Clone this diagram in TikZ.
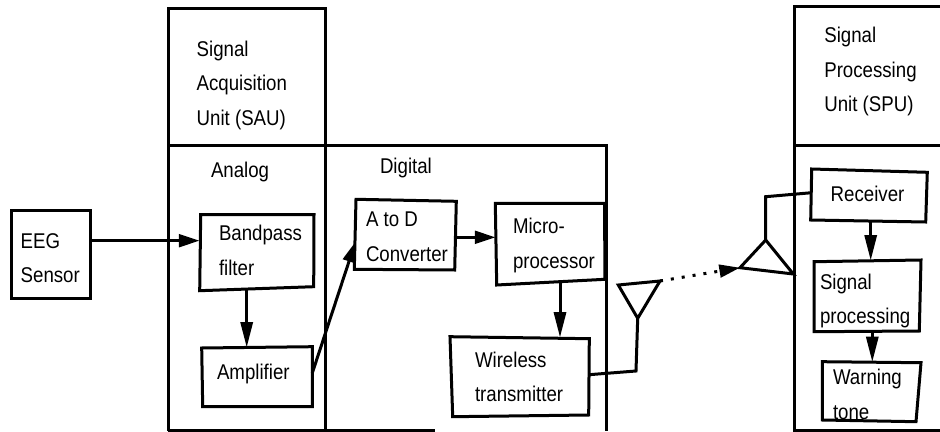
\documentclass[tikz,border=0pt]{standalone}
\usepackage{fontspec}
\setmainfont[FakeStretch=0.875]{Liberation Sans}
\usetikzlibrary{arrows.meta}
\tikzset{
  frameline/.style={line width=2.25pt,black},
  boxline/.style={line width=2.25pt,black,line join=miter},
  wire/.style={line width=2.25pt,black,line join=miter},
  flow/.style={line width=2.25pt,black,-{Triangle[length=15.5pt,width=9.5pt]}},
  flowdown/.style={line width=2.25pt,black,-{Triangle[length=19pt,width=9pt]}},
  lbl/.style={anchor=north west,inner sep=0pt,outer sep=0pt,align=left,text=black,
    font={\fontsize{16}{26}\selectfont}}
}
\begin{document}
\begin{tikzpicture}[x=0.75pt,y=-0.75pt]
\useasboundingbox (0,0) rectangle (940,432);
\fill[white] (0,0) rectangle (940,432);

% frames
\draw[frameline] (168.3,431) -- (168.3,8.5) -- (325,8.5) -- (325,431);
\draw[frameline] (168.3,145.7) -- (606,145.7) -- (606,431);
\draw[frameline] (168.3,430.5) -- (435,430.5);
\draw[frameline] (940,6.5) -- (794.5,6.5) -- (794.5,430) -- (940,430);
\draw[frameline] (794.5,145.7) -- (940,145.7);

% boxes
\draw[boxline] (11.7,210.7) -- (90,210.7) -- (90,298.3) -- (11.7,298.3) -- cycle;
\draw[boxline] (200.7,214.7) -- (314,214.7) -- (313.7,286.7) -- (199.7,290.7) -- cycle;
\draw[boxline] (201.7,348) -- (312.3,346.7) -- (312.3,406.7) -- (202.7,406.7) -- cycle;
\draw[boxline] (356,199.3) -- (456.3,201.3) -- (454.7,270) -- (354.3,269.3) -- cycle;
\draw[boxline] (495.3,203.3) -- (604.5,203.3) -- (605,279.3) -- (496.7,285) -- cycle;
\draw[boxline] (450,336.7) -- (589.3,338.7) -- (588.7,415) -- (452.7,416.7) -- cycle;
\draw[boxline] (811.7,169) -- (927.3,172.3) -- (925.7,222) -- (810.7,220) -- cycle;
\draw[boxline] (814,261.7) -- (921,260) -- (919.3,331) -- (814,331.7) -- cycle;
\draw[boxline] (822.3,361.7) -- (921,362.7) -- (916,421.7) -- (822.3,420) -- cycle;

% antennas
\coordinate (txL) at (618.3,285);
\coordinate (txR) at (660,281);
\coordinate (txB) at (637.7,318.3);
\coordinate (rxT) at (765.7,240);
\coordinate (rxL) at (740,267.7);
\coordinate (rxR) at (793.3,274);
\draw[boxline] (txL) -- (txR) -- (txB) -- cycle;
\draw[boxline] (rxT) -- (rxL) -- (rxR) -- cycle;

% labels
\node[lbl] (sau) at (196.7,40.7) {Signal\\Acquisition\\Unit (SAU)};
\node[lbl] (spu) at (824.3,27.2) {Signal\\Processing\\Unit (SPU)};
\node[lbl] (analog) at (211,162.2) {Analog};
\node[lbl] (digital) at (380,158.2) {Digital};
\node[lbl] (eeg) at (20.7,233.2) {EEG\\Sensor};
\node[lbl] (bp) at (219,225.2) {Bandpass\\filter};
\node[lbl] (amp) at (217,364.2) {Amplifier};
\node[lbl] (adc) at (366,211.7) {A to D\\Converter};
\node[lbl] (mcu) at (513,218.2) {Micro-\\processor};
\node[lbl] (tx) at (475,351.7) {Wireless\\transmitter};
\node[lbl] (rcv) at (830.7,185.7) {Receiver};
\node[lbl] (sp) at (820,273.7) {Signal\\processing};
\node[lbl] (warn) at (833,369.2) {Warning\\tone};

% ports
\coordinate (eegE) at (90,240.7);
\coordinate (bpW) at (199.5,240.7);
\coordinate (bpS) at (246.7,289);
\coordinate (ampN) at (246.7,347.5);
\coordinate (ampE) at (312.3,373);
\coordinate (adcW) at (355.5,241.7);
\coordinate (adcE) at (456,237.3);
\coordinate (mcuW) at (495.5,237.3);
\coordinate (mcuS) at (560,282);
\coordinate (txN) at (560,337.5);
\coordinate (txE) at (589,374.7);
\coordinate (txC) at (636,371);
\coordinate (rcvW) at (811.7,192.7);
\coordinate (rxC) at (765.7,196.7);
\coordinate (rcvS) at (870.7,221.5);
\coordinate (spN) at (870.7,260.5);
\coordinate (spS) at (872.3,331);
\coordinate (warnN) at (872.3,362);

% connectors
\draw[flow] (eegE) -- (bpW);
\draw[flowdown] (bpS) -- (ampN);
\draw[flow] (ampE) -- (adcW);
\draw[flow] (adcE) -- (mcuW);
\draw[flowdown] (mcuS) -- (txN);
\draw[wire] (txE) -- (txC) -- (txB);
\draw[wire] (rcvW) -- (rxC) -- (rxT);
\draw[flowdown] (rcvS) -- (spN);
\draw[flowdown] (spS) -- (warnN);
\draw[flow,dash pattern=on 2.25pt off 6pt] (txR) -- (rxL);
\end{tikzpicture}
\end{document}
